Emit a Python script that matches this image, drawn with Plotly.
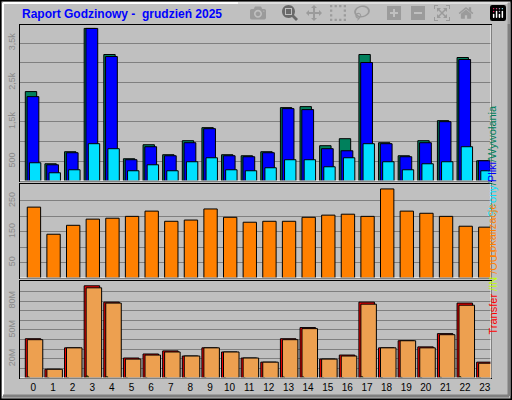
import plotly.graph_objects as go

hours = list(range(24))
hits = [2270,437,743,3873,3211,565,921,667,1023,1354,667,641,743,1863,1888,896,1074,3211,972,641,1023,1532,3135,514]
files = [2142,412,718,3873,3160,540,870,641,972,1328,641,616,718,1837,1812,820,768,3008,947,616,972,1506,3084,514]
pages = [463,209,285,947,820,260,412,260,489,590,285,260,336,540,540,361,590,947,489,285,437,489,870,260]
sites = [230,142,171,191,194,200,217,184,188,224,197,181,184,184,197,204,207,200,289,217,210,200,168,165]
kb_total = [40.9,9.1,31.4,96,79,20.8,25,28.2,22.9,31.4,27.1,20.8,16.5,40.9,52.5,19.7,23.9,79,31.4,38.8,32.4,46.2,78,16.5]
kb_out = [39.9,9.1,31.4,93.9,78,19.7,23.9,27.1,22.9,31.4,27.1,20.8,16.5,39.9,51.4,19.7,22.9,76.9,31.4,38.8,31.4,45.1,75.8,15.4]
kb_in = [1.0,0.3,0.4,2.0,1.2,0.4,0.5,0.5,0.4,0.5,0.4,0.4,0.3,1.0,1.0,0.3,0.4,1.2,0.5,0.6,0.5,0.7,1.2,0.3]

W, H = 512, 400
fig = go.Figure()
line = dict(color="black", width=1)

def bar(y, color, off, w, ya, xa):
    fig.add_trace(go.Bar(x=hours, y=y, marker=dict(color=color, line=line), offset=off, width=w,
                         xaxis=xa, yaxis=ya, hoverinfo="skip"))

bar(hits, "#00805C", -0.41, 0.58, "y", "x")
bar(files, "#0000FF", -0.32, 0.60, "y", "x")
bar(pages, "#00E0FF", -0.20, 0.58, "y", "x")
bar(sites, "#FF8000", -0.31, 0.68, "y2", "x2")
bar(kb_total, "#FF0000", -0.41, 0.79, "y3", "x3")
bar(kb_out, "#EDA050", -0.31, 0.79, "y3", "x3")
bar(kb_in, "#C0FF00", -0.31, 0.10, "y3", "x3")

xd = [20/W, 491/W]
xr = [-0.68, 23.32]
def dom(t, b):
    return [1-b/H, 1-t/H]

common_x = dict(range=xr, domain=xd, showgrid=False, zeroline=False, showline=True,
                linecolor="black", mirror=True, fixedrange=True)
fig.update_layout(
    width=W, height=H, margin=dict(l=0, r=0, t=0, b=0),
    paper_bgcolor="#C0C0C0", plot_bgcolor="#C0C0C0",
    barmode="overlay", showlegend=False,
    font=dict(family="Liberation Sans", size=10, color="black"),
    xaxis=dict(common_x, anchor="y", showticklabels=False, ticks=""),
    xaxis2=dict(common_x, anchor="y2", showticklabels=False, ticks=""),
    xaxis3=dict(common_x, anchor="y3", tickmode="array", tickvals=hours,
                ticktext=[str(h) for h in hours], ticks="", tickfont=dict(size=10, color="black")),
    yaxis=dict(domain=dom(25, 181), range=[0, 3960], anchor="x",
               tickvals=[500,1000,1500,2000,2500,3000,3500],
               ticktext=["500","","1,5k","","2,5k","","3,5k"],
               tickangle=-90, tickfont=dict(size=9, color="#8A8A8A"),
               gridcolor="#808080", zeroline=False, showline=True, linecolor="black", mirror=True),
    yaxis2=dict(domain=dom(184, 278), range=[0, 305], anchor="x2",
                tickvals=[50,100,150,200,250], ticktext=["50","","150","","250"],
                tickangle=-90, tickfont=dict(size=9, color="#8A8A8A"),
                gridcolor="#808080", zeroline=False, showline=True, linecolor="black", mirror=True),
    yaxis3=dict(domain=dom(281, 378), range=[0, 101], anchor="x3",
                tickvals=list(range(10, 101, 10)),
                ticktext=["","20M","","","50M","","","80M","",""],
                tickangle=-90, tickfont=dict(size=9, color="#8A8A8A"),
                gridcolor="#808080", zeroline=False, showline=True, linecolor="black", mirror=True),
)

shapes = [
    dict(type="rect", xref="paper", yref="paper", x0=0.001, x1=0.999, y0=0.0015, y1=0.9985,
         line=dict(color="black", width=2)),
    dict(type="line", xref="paper", yref="paper", x0=3/W, x1=3/W, y0=4/H, y1=1-3/H, line=dict(color="white", width=2)),
    dict(type="line", xref="paper", yref="paper", x0=3/W, x1=1-4/W, y0=1-3/H, y1=1-3/H, line=dict(color="white", width=2)),
    dict(type="line", xref="paper", yref="paper", x0=3/W, x1=1-3/W, y0=4/H, y1=4/H, line=dict(color="#808080", width=3)),
    dict(type="line", xref="paper", yref="paper", x0=1-3/W, x1=1-3/W, y0=4/H, y1=1-3/H, line=dict(color="#808080", width=3)),
]
for t, b in [(25, 181), (184, 278), (281, 378)]:
    shapes.append(dict(type="line", xref="paper", yref="paper", x0=20/W, x1=491/W, y0=1-b/H, y1=1-b/H,
                       line=dict(color="white", width=1)))
    shapes.append(dict(type="line", xref="paper", yref="paper", x0=491/W, x1=491/W, y0=1-b/H, y1=1-t/H,
                       line=dict(color="white", width=1)))
fig.update_layout(shapes=shapes)

fig.add_annotation(xref="paper", yref="paper", x=20/W, y=1-14/H, xanchor="left", yanchor="middle",
                   text="<b>Raport Godzinowy -  grudzień 2025</b>", showarrow=False,
                   font=dict(size=12, color="#0000FF", family="Liberation Sans"))
fig.add_annotation(xref="paper", yref="paper", x=500/W, y=1-103/H, textangle=-90, showarrow=False,
                   text="<span style='color:#00E0FF'>Strony</span><span style='color:#00805C'>/</span>"
                        "<span style='color:#0000FF'>Pliki</span><span style='color:#00805C'>/Wywołania</span>",
                   font=dict(size=11, family="Liberation Sans"))
fig.add_annotation(xref="paper", yref="paper", x=500/W, y=1-231/H, textangle=-90, showarrow=False,
                   text="Lokalizacje", font=dict(size=11, color="#FF8000", family="Liberation Sans"))
fig.add_annotation(xref="paper", yref="paper", x=500/W, y=1-337/H, textangle=-90, showarrow=False,
                   text="<span style='color:#FF0000'>Transfer</span><span style='color:#C0FF00'> /IN </span>"
                        "<span style='color:#FF8000'>/OUT</span>",
                   font=dict(size=11, family="Liberation Sans"))

fig.write_html("out.html")
with open("out.html", encoding="utf-8") as f:
    html = f.read()
html = html.replace("<body>", "<body style=\"margin:0;padding:0;overflow:hidden\">", 1)
with open("out.html", "w", encoding="utf-8") as f:
    f.write(html)
